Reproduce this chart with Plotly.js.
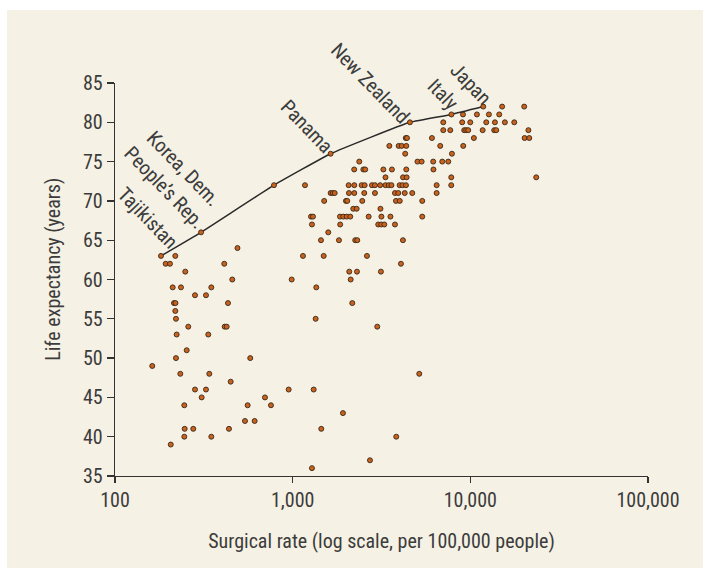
<!DOCTYPE html>
<html><head><meta charset="utf-8">
<script src="https://cdn.plot.ly/plotly-3.0.1.min.js"></script>
<style>
html,body{margin:0;padding:0;background:#ffffff;width:703px;height:571px;overflow:hidden}
#chart{position:absolute;left:7px;top:10px;width:696px;height:558px}
</style></head><body><div id="chart"></div>
<script>
// Frontier countries (line)
const frontierNames = ["Tajikistan", "Korea, Dem. People’s Rep.", "", "Panama", "New Zealand", "Italy", "Japan"];
const frontierRate = [181.5, 305, 785, 1636, 4571, 7826, 11820];
const frontierLife = [63, 66, 72, 76, 80, 81, 82];

// All other countries: surgical rate (per 100,000) and life expectancy (years)
const surgicalRate = [
  15100, 20100,
  9090, 10890, 12720, 14540,
  7040, 9000, 9990, 12290, 13750, 15650, 17670,
  7040, 7710, 9240, 9480, 9730, 11730, 13630, 13990, 21230,
  4330, 4400, 6080, 10470, 20210, 21460,
  3500, 3950, 4110, 4360, 6770, 9120,
  4300, 7880,
  2370, 5040, 5320, 6180, 6950, 7510,
  2220, 2500, 2560, 3240, 3620, 4360, 6200,
  3330, 4180, 4380, 7810, 23490,
  1173, 2066, 2222, 2445, 2542, 2794, 2905, 3108, 3329, 3474, 3597, 4001, 4148, 4342, 6462, 7808,
  1636, 1680, 1724, 2074, 2222, 2529, 2905, 3765, 3930, 4273, 4711, 6462,
  1504, 1995, 2029, 2464, 3814, 4006, 5362,
  2193, 2292, 3120,
  1268, 1301, 1846, 1927, 2014, 2110, 2677, 3159, 3551, 5362,
  1284, 1851, 3031, 3151, 3278, 3765,
  1586,
  1443, 1822, 2250, 2310, 4175,
  489,
  218.5, 1143, 1495, 2619,
  192.9, 203.9, 412.2, 4069,
  248.6, 2082, 2301, 3139,
  457.2, 987, 2121,
  211.2, 235.1, 348.4, 1358,
  282, 325.2,
  214.8, 219, 432.5, 2165,
  218.5,
  220.4, 1347,
  258.5, 414.3, 425.2, 2993,
  222.4, 335,
  253.2,
  220.4, 577,
  162.1,
  233.1, 339.4, 5158,
  447.8,
  282, 325.2, 949.5, 1313,
  307.5, 698.5,
  245.5, 558, 755,
  1919,
  539, 611,
  246.7, 275.8, 438, 1449,
  245.5, 348.4, 3828,
  206,
  2723,
  1284
];
const lifeExpectancy = [
  82, 82,
  81, 81, 81, 81,
  80, 80, 80, 80, 80, 80, 80,
  79, 79, 79, 79, 79, 79, 79, 79, 79,
  78, 78, 78, 78, 78, 78,
  77, 77, 77, 77, 77, 77,
  76, 76,
  75, 75, 75, 75, 75, 75,
  74, 74, 74, 74, 74, 74, 74,
  73, 73, 73, 73, 73,
  72, 72, 72, 72, 72, 72, 72, 72, 72, 72, 72, 72, 72, 72, 72, 72,
  71, 71, 71, 71, 71, 71, 71, 71, 71, 71, 71, 71,
  70, 70, 70, 70, 70, 70, 70,
  69, 69, 69,
  68, 68, 68, 68, 68, 68, 68, 68, 68, 68,
  67, 67, 67, 67, 67, 67,
  66,
  65, 65, 65, 65, 65,
  64,
  63, 63, 63, 63,
  62, 62, 62, 62,
  61, 61, 61, 61,
  60, 60, 60,
  59, 59, 59, 59,
  58, 58,
  57, 57, 57, 57,
  56,
  55, 55,
  54, 54, 54, 54,
  53, 53,
  51,
  50, 50,
  49,
  48, 48, 48,
  47,
  46, 46, 46, 46,
  45, 45,
  44, 44, 44,
  43,
  42, 42,
  41, 41, 41, 41,
  40, 40, 40,
  39,
  37,
  36
];

const yTicks = [35, 40, 45, 50, 55, 60, 65, 70, 75, 80, 85];
const xTickVals = [100, 1000, 10000, 100000];
const xTickText = ["100", "1,000", "10,000", "100,000"];
const xTitle = "Surgical rate (log scale, per 100,000 people)";
const yTitle = "Life expectancy (years)";

const FONT = "'Roboto Condensed', 'DejaVu Sans Condensed', sans-serif";
const TXT = "#3c3c3c";
const DOT = "#c8621c";
const DOT_EDGE = "#3a2818";

const traces = [
  {
    type: "scatter", mode: "markers",
    x: surgicalRate, y: lifeExpectancy,
    marker: {size: 5, color: DOT, line: {color: DOT_EDGE, width: 0.9}},
    hoverinfo: "x+y", cliponaxis: false
  },
  {
    type: "scatter", mode: "lines+markers",
    x: frontierRate, y: frontierLife, text: frontierNames,
    line: {color: "#2a2a2a", width: 1.5, shape: "spline", smoothing: 0.35},
    marker: {size: 5, color: DOT, line: {color: DOT_EDGE, width: 0.9}},
    cliponaxis: false
  }
];

// label placement: [frontier index, text, xshift, yshift]
const labelSpec = [
  [0, "Tajikistan", -13, 38],
  [1, "Korea, Dem.", -18, 64],
  [1, "People’s Rep.", -37, 45],
  [3, "Panama", -24, 28],
  [4, "New Zealand", -40, 39],
  [5, "Italy", -9, 20],
  [6, "Japan", -12, 23]
];
const annotations = labelSpec.map(s => ({
  x: Math.log10(frontierRate[s[0]]), y: frontierLife[s[0]],
  xref: "x", yref: "y", text: s[1], showarrow: false,
  xanchor: "center", yanchor: "middle", xshift: s[2], yshift: s[3],
  textangle: 46, font: {family: FONT, size: 20, color: TXT}
}));
annotations.push({
  xref: "paper", yref: "paper", x: -0.116, y: 0.525, text: yTitle, showarrow: false,
  xanchor: "center", yanchor: "middle", textangle: -90,
  font: {family: FONT, size: 20, color: TXT}
});

const layout = {
  width: 696, height: 558,
  paper_bgcolor: "#f5f1e4", plot_bgcolor: "rgba(0,0,0,0)",
  margin: {l: 108, r: 55, t: 73, b: 92},
  showlegend: false,
  font: {family: FONT, size: 20, color: TXT},
  xaxis: {
    type: "log", range: [2, 5], tickvals: xTickVals, ticktext: xTickText,
    showgrid: false, zeroline: false, showline: true, linecolor: "#333", linewidth: 1.3,
    ticks: "outside", ticklen: 6, tickwidth: 1.3, tickcolor: "#333",
    tickfont: {family: FONT, size: 20, color: TXT},
    title: {text: xTitle, font: {family: FONT, size: 20, color: TXT}, standoff: 22},
    automargin: false
  },
  yaxis: {
    range: [35, 85], tickvals: yTicks,
    showgrid: false, zeroline: false, showline: true, linecolor: "#333", linewidth: 1.3,
    ticks: "outside", ticklen: 7, tickwidth: 1.3, tickcolor: "#333",
    tickfont: {family: FONT, size: 20, color: TXT},
    automargin: false
  },
  annotations: annotations
};

Plotly.newPlot("chart", traces, layout, {displayModeBar: false, staticPlot: true});
</script>
</body></html>
